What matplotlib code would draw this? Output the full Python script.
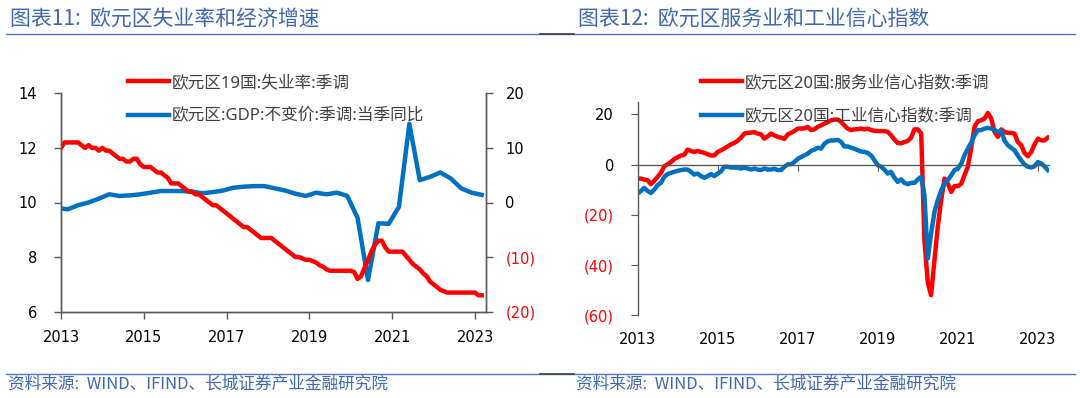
import matplotlib
matplotlib.use("Agg")
import matplotlib.pyplot as plt
import pandas as pd
from matplotlib.lines import Line2D

plt.rcParams.update({
    "font.family": ["DejaVu Sans"],
    "font.size": 10.5,
    "axes.linewidth": 1.0,
})

RED = "#FF0000"
BLUE = "#0070C0"
AXC = "#595959"
TITLE_C = "#3F68AE"
CJK = ["Noto Sans", "Noto Sans CJK SC", "DejaVu Sans"]

# ---------------------------------------------------------------- data: chart 11
# 欧元区19国 失业率 (月度, 2013-01 .. 2023-03)
unemp = [
    12.0, 12.2, 12.2, 12.2, 12.2, 12.2, 12.1, 12.0, 12.1, 12.0, 12.0, 11.9,
    12.0, 11.9, 11.9, 11.8, 11.7, 11.6, 11.6, 11.5, 11.5, 11.6, 11.6, 11.4,
    11.3, 11.3, 11.3, 11.2, 11.1, 11.1, 11.0, 10.9, 10.7, 10.7, 10.7, 10.6,
    10.5, 10.4, 10.4, 10.3, 10.3, 10.2, 10.1, 10.0, 9.9, 9.9, 9.8, 9.7,
    9.6, 9.5, 9.4, 9.3, 9.2, 9.1, 9.1, 9.0, 8.9, 8.8, 8.7, 8.7,
    8.7, 8.7, 8.6, 8.5, 8.4, 8.3, 8.2, 8.1, 8.0, 8.0, 7.95, 7.9,
    7.9, 7.85, 7.8, 7.7, 7.65, 7.55, 7.5, 7.5, 7.5, 7.5, 7.5, 7.5,
    7.5, 7.45, 7.2, 7.3, 7.6, 7.9, 8.2, 8.45, 8.6, 8.6, 8.35, 8.2,
    8.2, 8.2, 8.2, 8.2, 8.05, 7.9, 7.75, 7.65, 7.55, 7.4, 7.3, 7.1,
    7.0, 6.9, 6.8, 6.75, 6.7, 6.7, 6.7, 6.7, 6.7, 6.7, 6.7, 6.7,
    6.7, 6.6, 6.6,
]
unemp_dates = pd.date_range("2013-01-01", periods=len(unemp), freq="MS")

# 欧元区 GDP 不变价 当季同比 (季度末月, 2012-12 .. 2023-03)
gdp = [
    -1.0,
    -1.25, -0.5, 0.0, 0.7,
    1.5, 1.2, 1.3, 1.5,
    1.8, 2.1, 2.1, 2.1,
    2.0, 1.7, 1.9, 2.2,
    2.7, 2.9, 3.0, 3.0,
    2.6, 2.2, 1.6, 1.2,
    1.8, 1.5, 1.8, 1.2,
    -2.8, -14.2, -3.8, -3.9,
    -0.8, 14.4, 4.1, 4.7,
    5.5, 4.4, 2.6, 1.8,
    1.4,
]
gdp_dates = pd.date_range("2012-12-01", periods=len(gdp), freq="3MS")

# ---------------------------------------------------------------- data: chart 12
# 欧元区20国 服务业 / 工业信心指数 (月度, 2013-01 .. 2023-04)
services = [
    -5.6, -5.6, -6.0, -6.2, -7.8, -6.5, -4.9, -3.3, -0.7, 0.1, 1.0, 2.2,
    2.9, 3.6, 3.8, 5.9, 5.4, 5.0, 5.4, 5.0, 4.6, 4.1, 3.6, 3.6,
    5.0, 5.7, 6.3, 7.2, 8.0, 8.6, 9.4, 10.7, 12.3, 12.6, 12.7, 12.9,
    12.3, 12.0, 10.3, 11.2, 12.3, 11.6, 11.0, 10.7, 10.2, 12.0, 12.6, 13.4,
    14.3, 14.3, 14.4, 15.0, 13.7, 14.0, 15.0, 15.6, 16.3, 16.9, 17.6, 17.9,
    17.9, 16.9, 15.6, 14.3, 13.7, 14.0, 14.1, 14.3, 14.0, 14.3, 13.7, 13.4,
    13.3, 13.3, 13.3, 13.0, 11.7, 10.0, 8.6, 8.4, 9.0, 9.4, 10.7, 14.0,
    14.0, 12.3, -30.0, -47.0, -52.0, -38.0, -24.8, -14.2, -5.6, -7.6, -10.9, -8.6,
    -8.6, -7.6, -4.3, -1.0, 6.3, 14.9, 17.2, 17.6, 18.3, 20.5, 18.3, 13.0,
    11.0, 14.0, 13.0, 12.6, 12.6, 12.3, 9.0, 7.7, 4.6, 3.3, 5.0, 8.0,
    10.3, 9.6, 9.6, 10.7,
]
industry = [
    -11.5, -10.5, -9.3, -10.5, -11.3, -10.0, -8.2, -7.3, -4.9, -3.8, -3.3, -2.9,
    -2.5, -2.2, -2.0, -2.0, -2.9, -4.0, -3.6, -4.6, -5.3, -4.6, -3.8, -4.6,
    -3.6, -2.7, -0.9, -0.9, -1.2, -1.2, -1.3, -1.6, -1.2, -1.6, -2.0, -1.6,
    -2.0, -2.2, -1.6, -2.0, -2.0, -1.7, -2.2, -2.2, -0.9, 0.1, 0.1, 1.0,
    2.3, 3.0, 3.6, 4.3, 5.4, 5.9, 6.7, 6.3, 8.3, 9.2, 9.6, 9.6,
    9.8, 9.0, 7.2, 7.2, 6.7, 6.3, 5.7, 5.2, 5.0, 4.6, 3.6, 1.7,
    -0.3, -0.9, -2.0, -3.6, -2.9, -5.2, -6.9, -5.9, -7.3, -7.8, -7.3, -7.3,
    -5.9, -4.9, -12.0, -37.4, -27.5, -18.9, -14.2, -10.3, -7.6, -6.2, -4.3, -2.2,
    -1.6, 0.4, 3.6, 6.3, 8.6, 11.6, 13.7, 13.7, 14.3, 14.6, 14.3, 13.7,
    13.0, 13.4, 9.6, 7.7, 6.7, 5.7, 3.6, 1.7, 0.0, -0.9, -1.2, -0.7,
    1.0, 0.4, -0.7, -2.2,
]
conf_dates = pd.date_range("2013-01-01", periods=len(services), freq="MS")

years = [2013, 2015, 2017, 2019, 2021, 2023]
year_ticks = [pd.Timestamp(f"{y}-01-01") for y in years]
year_labels = [str(y) for y in years]


def paren(v):
    return f"({abs(v):g})" if v < 0 else f"{v:g}"


def set_yticks_colored(ax, ticks):
    ax.set_yticks(ticks, labels=[paren(t) for t in ticks])
    for lbl, t in zip(ax.get_yticklabels(), ticks):
        lbl.set_color(RED if t < 0 else "black")


W, H = 1080, 398
fig = plt.figure(figsize=(W / 100, H / 100), dpi=100)


def px_axes(x0, y0, x1, y1):
    return fig.add_axes([x0 / W, 1 - y1 / H, (x1 - x0) / W, (y1 - y0) / H])


LEG = dict(loc="upper left", frameon=False, borderpad=0, borderaxespad=0,
           handlelength=2.45, handletextpad=0.2, labelspacing=1.05,
           labelcolor="#404040", prop={"family": CJK, "size": 12})

# ---------------------------------------------------------------- 图表11
ax1 = px_axes(61, 93.3, 486, 311.7)
ax1r = ax1.twinx()
l1, = ax1.plot(unemp_dates, unemp, color=RED, lw=3.2, label="欧元区19国:失业率:季调")
l2, = ax1r.plot(gdp_dates, gdp, color=BLUE, lw=3.2, label="欧元区:GDP:不变价:季调:当季同比")
ax1.set_zorder(ax1r.get_zorder() + 1)
ax1.patch.set_visible(False)
ax1.set_ylim(6, 14)
ax1.set_yticks([6, 8, 10, 12, 14])
ax1r.set_ylim(-20, 20)
ax1.set_xlim(pd.Timestamp("2013-01-01"), pd.Timestamp("2023-04-08"))
ax1.set_xticks(year_ticks, labels=year_labels)
for a in (ax1, ax1r):
    a.spines["top"].set_visible(False)
    for s in ("left", "right", "bottom"):
        a.spines[s].set_color(AXC)
    a.tick_params(colors=AXC, labelcolor="black", length=5, width=1, labelsize=10.5)
ax1.tick_params(axis="y", pad=12)
ax1r.tick_params(axis="y", pad=9)
set_yticks_colored(ax1r, [-20, -10, 0, 10, 20])
ax1.tick_params(axis="x", pad=8)

fig.legend(handles=[l1, l2], bbox_to_anchor=(128 / W, 1 - 75 / H), **LEG)

# ---------------------------------------------------------------- 图表12
ax2 = px_axes(637.7, 101.7, 1049, 315.3)
l3, = ax2.plot(conf_dates, services, color=RED, lw=3.2, label="欧元区20国:服务业信心指数:季调")
l4, = ax2.plot(conf_dates, industry, color=BLUE, lw=3.2, label="欧元区20国:工业信心指数:季调")
ax2.set_ylim(-60, 25)
ax2.set_xlim(pd.Timestamp("2013-01-01"), pd.Timestamp("2023-04-12"))
ax2.spines["top"].set_visible(False)
ax2.spines["right"].set_visible(False)
ax2.spines["left"].set_color(AXC)
ax2.spines["bottom"].set_color(AXC)
ax2.spines["bottom"].set_position(("data", 0))
ax2.set_xticks(year_ticks)
ax2.tick_params(axis="x", labelbottom=False, direction="out", length=4, colors=AXC)
ax2.tick_params(axis="y", colors=AXC, length=5, pad=12, labelsize=10.5)
set_yticks_colored(ax2, [-60, -40, -20, 0, 20])
sec = ax2.secondary_xaxis("bottom")
sec.set_xticks(year_ticks, labels=year_labels)
sec.spines["bottom"].set_visible(False)
sec.tick_params(length=0, pad=12, labelsize=10.5)

fig.legend(handles=[l3, l4], bbox_to_anchor=(701 / W, 1 - 75 / H), **LEG)

# ---------------------------------------------------------------- titles, rules, sources
TITLE_FONT = ["Noto Sans CJK SC", "DejaVu Sans"]
fig.text(10 / W, 1 - 18.5 / H, "图表11:  欧元区失业率和经济增速", color=TITLE_C,
         fontsize=15, va="center", family=TITLE_FONT)
fig.text(578 / W, 1 - 18.5 / H, "图表12:  欧元区服务业和工业信心指数", color=TITLE_C,
         fontsize=15, va="center", family=TITLE_FONT)
src = "资料来源:  WIND、IFIND、长城证券产业金融研究院"
fig.text(8 / W, 1 - 384 / H, src, color=TITLE_C, fontsize=12, va="center", family=TITLE_FONT)
fig.text(576 / W, 1 - 384 / H, src, color=TITLE_C, fontsize=12, va="center", family=TITLE_FONT)

for yy in (33.5, 374):
    fig.add_artist(Line2D([6 / W, 1075 / W], [1 - yy / H] * 2, transform=fig.transFigure,
                          color="#4A78C2", lw=1.0))
    fig.add_artist(Line2D([540 / W, 574 / W], [1 - yy / H] * 2, transform=fig.transFigure,
                          color="#404040", lw=1.2))

fig.savefig("out.png", dpi=100)
